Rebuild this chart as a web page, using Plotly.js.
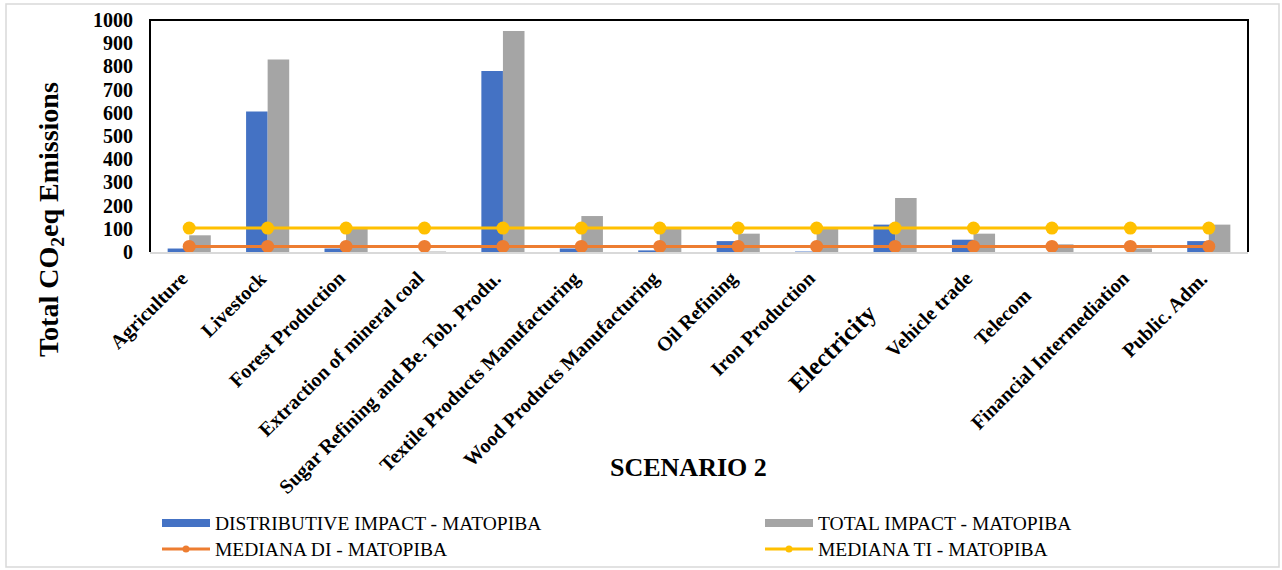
<!DOCTYPE html>
<html>
<head>
<meta charset="utf-8">
<script src="https://cdn.plot.ly/plotly-3.0.1.min.js"></script>
<style>
  html, body { margin: 0; padding: 0; background: #fff; }
  #chart { width: 1282px; height: 570px; }
</style>
</head>
<body>
<div id="chart"></div>
<script>
// Sectors of the MATOPIBA region
const categories = [
  'Agriculture', 'Livestock', 'Forest Production', 'Extraction of mineral coal',
  'Sugar Refining and Be. Tob. Produ.', 'Textile Products Manufacturing',
  'Wood Products Manufacturing', 'Oil Refining', 'Iron Production', 'Electricity',
  'Vehicle trade', 'Telecom', 'Financial Intermediation', 'Public. Adm.'
];

// Total CO2eq emissions per sector
const distributiveImpact = [15, 606, 15, 0, 780, 15, 7, 47, 2, 118, 53, 0, 0, 47];
const totalImpact        = [72, 830, 100, 2, 953, 155, 100, 79, 100, 233, 79, 33, 15, 118];
const medianDI = [24, 24, 24, 24, 24, 24, 24, 24, 24, 24, 24, 24, 24, 24];
const medianTI = [103, 103, 103, 103, 103, 103, 103, 103, 103, 103, 103, 103, 103, 103];

const seriesNames = [
  'DISTRIBUTIVE IMPACT - MATOPIBA', 'TOTAL IMPACT - MATOPIBA',
  'MEDIANA DI - MATOPIBA', 'MEDIANA TI - MATOPIBA'
];
const yTicks = [0, 100, 200, 300, 400, 500, 600, 700, 800, 900, 1000];

const colors = { di: '#4472C4', ti: '#A5A5A5', mdi: '#ED7D31', mti: '#FFC000' };
const serif = '"Liberation Serif", "Times New Roman", Times, serif';

// Plot box in page pixels, used to place paper-referenced decorations
const PL = 150, PR = 1248, PT = 20, PB = 252;
const px = x => (x - PL) / (PR - PL);
const py = y => (PB - y) / (PB - PT);

// Sector label placement: [x shift, y shift, font size]
const labelStyle = categories.map(c => [6, -12, 20]);
labelStyle[9] = [-10, -44, 25];   // Electricity
labelStyle[11] = [-14, -29, 20];  // Telecom

const traces = [
  { type: 'bar', name: seriesNames[0], x: categories, y: distributiveImpact,
    marker: { color: colors.di }, showlegend: false },
  { type: 'bar', name: seriesNames[1], x: categories, y: totalImpact,
    marker: { color: colors.ti }, showlegend: false },
  { type: 'scatter', mode: 'lines+markers', name: seriesNames[2], x: categories, y: medianDI,
    line: { color: colors.mdi, width: 3 }, marker: { color: colors.mdi, size: 13 }, showlegend: false },
  { type: 'scatter', mode: 'lines+markers', name: seriesNames[3], x: categories, y: medianTI,
    line: { color: colors.mti, width: 3 }, marker: { color: colors.mti, size: 13 }, showlegend: false }
];

const annotations = [];

// Rotated sector labels
categories.forEach((c, i) => {
  const [dx, dy, fs] = labelStyle[i];
  annotations.push({
    xref: 'x', yref: 'paper', x: c, y: 0, xshift: dx, yshift: dy,
    xanchor: 'right', yanchor: 'top', textangle: -45, showarrow: false,
    text: '<b>' + c + '</b>', font: { family: serif, size: fs, color: '#000' }
  });
});

// Axis title
annotations.push({
  xref: 'paper', yref: 'paper', x: px(50), y: py(220), textangle: -90,
  xanchor: 'center', yanchor: 'middle', showarrow: false,
  text: '<b>Total CO<sub>2</sub>eq Emissions</b>', font: { family: serif, size: 28, color: '#000' }
});

// Scenario caption
annotations.push({
  xref: 'paper', yref: 'paper', x: px(688), y: py(467),
  xanchor: 'center', yanchor: 'middle', showarrow: false,
  text: '<b>SCENARIO 2</b>', font: { family: serif, size: 26, color: '#000' }
});

// Legend: swatches and labels
const shapes = [];
const legendItems = [
  { name: seriesNames[0], color: colors.di, kind: 'bar',  x: 162, y: 523 },
  { name: seriesNames[1], color: colors.ti, kind: 'bar',  x: 765, y: 523 },
  { name: seriesNames[2], color: colors.mdi, kind: 'line', x: 162, y: 549 },
  { name: seriesNames[3], color: colors.mti, kind: 'line', x: 765, y: 549 }
];
legendItems.forEach(it => {
  if (it.kind === 'bar') {
    shapes.push({ type: 'rect', xref: 'paper', yref: 'paper',
      x0: px(it.x), x1: px(it.x + 48), y0: py(it.y + 4), y1: py(it.y - 4),
      fillcolor: it.color, line: { width: 0 } });
  } else {
    shapes.push({ type: 'line', xref: 'paper', yref: 'paper',
      x0: px(it.x), x1: px(it.x + 48), y0: py(it.y), y1: py(it.y),
      line: { color: it.color, width: 3 } });
    shapes.push({ type: 'circle', xref: 'paper', yref: 'paper',
      x0: px(it.x + 20.5), x1: px(it.x + 27.5), y0: py(it.y + 3.5), y1: py(it.y - 3.5),
      fillcolor: it.color, line: { width: 0 } });
  }
  annotations.push({
    xref: 'paper', yref: 'paper', x: px(it.x + 51), y: py(it.y),
    xanchor: 'left', yanchor: 'middle', showarrow: false,
    text: it.name, font: { family: serif, size: 19.5, color: '#000' }
  });
});

// Plot frame: dark on top and sides, light baseline
shapes.push({ type: 'path', xref: 'paper', yref: 'paper', path: 'M0,0 L0,1 L1,1 L1,0',
  line: { color: '#000', width: 2 }, layer: 'above' });
// Outer chart border
shapes.push({ type: 'rect', xref: 'paper', yref: 'paper',
  x0: px(6), x1: px(1279), y0: py(567), y1: py(4),
  line: { color: '#d9d9d9', width: 1.5 } });

const layout = {
  width: 1282, height: 570,
  margin: { l: PL, r: 1282 - PR, t: PT, b: 570 - PB, pad: 0 },
  paper_bgcolor: '#fff', plot_bgcolor: '#fff',
  barmode: 'group', bargap: 0.45, bargroupgap: 0,
  showlegend: false,
  xaxis: {
    type: 'category', range: [-0.5, categories.length - 0.5], autorange: false,
    showticklabels: false, showgrid: false, zeroline: false,
    showline: true, linecolor: '#d9d9d9', linewidth: 1.5, ticks: ''
  },
  yaxis: {
    range: [0, 1000], autorange: false, tickvals: yTicks, ticktext: yTicks.map(v => '<b>' + v + '</b>'),
    showgrid: false, zeroline: false, showline: false, ticks: '',
    ticklabelstandoff: 16,
    tickfont: { family: serif, size: 20, color: '#000' }
  },
  annotations: annotations,
  shapes: shapes,
  font: { family: serif }
};

Plotly.newPlot('chart', traces, layout, { displayModeBar: false, staticPlot: true });
</script>
</body>
</html>
